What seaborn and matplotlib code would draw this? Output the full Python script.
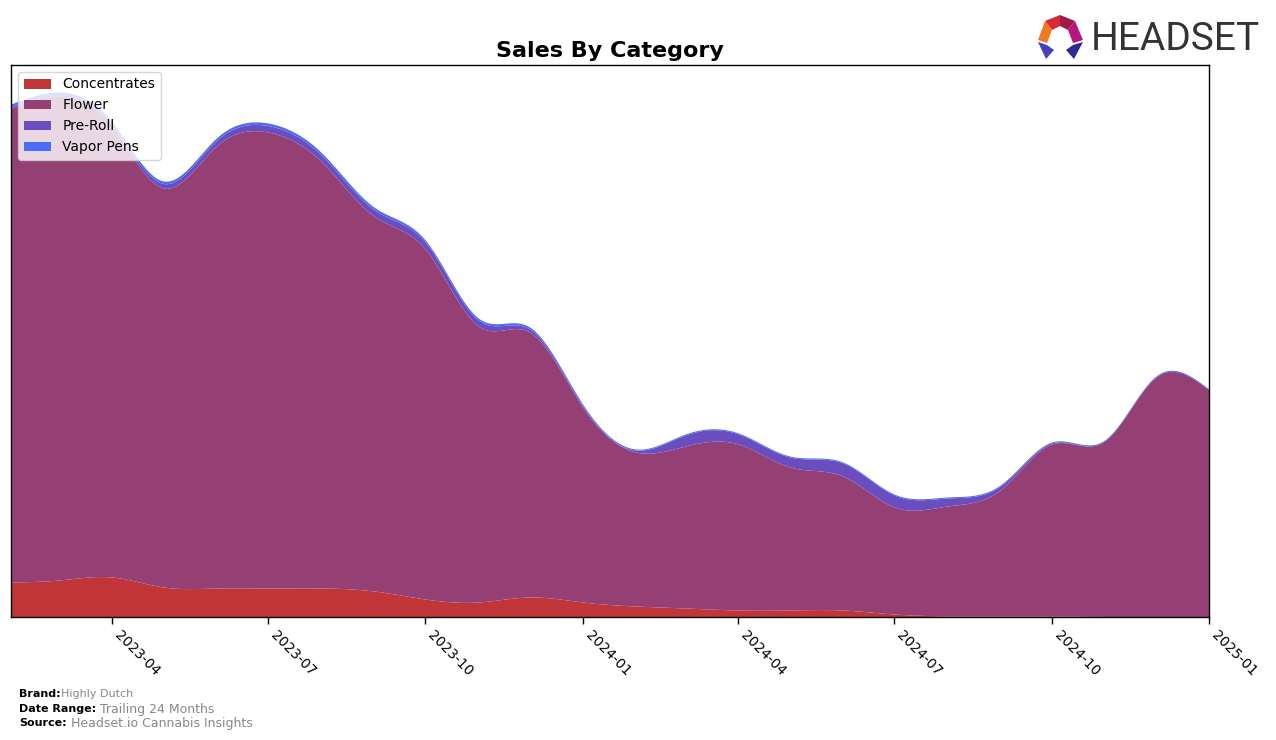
import numpy as np
import pandas as pd
import matplotlib
matplotlib.use("Agg")
import matplotlib.pyplot as plt
import matplotlib.dates as mdates
from matplotlib.patches import Polygon
import seaborn as sns

# ---------------- data ----------------
months = pd.date_range("2023-02-01", "2025-01-01", freq="MS")
categories = ["Concentrates", "Flower", "Pre-Roll", "Vapor Pens"]

concentrates = [35, 37, 40, 30, 29, 29, 29, 26, 18, 15, 20, 15,
                11, 9, 7, 7, 7, 3, 1.2, 1.2, 1.0, 0.5, 0.3, 0.2]
total_top_px = [104, 92, 122, 181, 138, 123, 152, 207, 240, 318, 327, 404,
                449, 434, 433, 456, 462, 494, 497, 485, 442, 440, 376, 389]
flower_top_px = [108, 96, 127, 188, 146, 132, 161, 216, 249, 326, 332, 407,
                 452, 446, 444, 467, 476, 507, 506, 490, 444, 441, 377, 390]
vapor_pens = [2.5, 2.5, 2.5, 2.5, 2.5, 2.5, 2.5, 2.5, 2, 2, 2, 1.5,
              1, 1, 1, 1, 1, 1, 1, 1, 1, 1, 1, 1]

BASE = 617.0
conc = np.array(concentrates, dtype=float)
flower = (BASE - np.array(flower_top_px, float)) - conc
vapor = np.array(vapor_pens, float)
preroll = (np.array(flower_top_px, float) - np.array(total_top_px, float)) - vapor
preroll = np.clip(preroll, 0, None)

series = {"Concentrates": conc, "Flower": flower, "Pre-Roll": preroll, "Vapor Pens": vapor}
colors = {"Concentrates": "#C13438", "Flower": "#944075",
          "Pre-Roll": "#6A4DBE", "Vapor Pens": "#4A6CF7"}


def natural_spline(x, y, xs):
    n = len(x)
    h = np.diff(x)
    A = np.zeros((n, n))
    r = np.zeros(n)
    A[0, 0] = 1
    A[-1, -1] = 1
    for i in range(1, n - 1):
        A[i, i - 1] = h[i - 1]
        A[i, i] = 2 * (h[i - 1] + h[i])
        A[i, i + 1] = h[i]
        r[i] = 3 * ((y[i + 1] - y[i]) / h[i] - (y[i] - y[i - 1]) / h[i - 1])
    c = np.linalg.solve(A, r)
    b = (y[1:] - y[:-1]) / h - h * (2 * c[:-1] + c[1:]) / 3
    d = (c[1:] - c[:-1]) / (3 * h)
    idx = np.clip(np.searchsorted(x, xs, side="right") - 1, 0, n - 2)
    dx = xs - x[idx]
    return y[idx] + b[idx] * dx + c[idx] * dx ** 2 + d[idx] * dx ** 3


xnum = mdates.date2num(months.to_pydatetime())
xs = np.linspace(xnum[0], xnum[-1], 600)
smooth = [np.clip(natural_spline(xnum, series[c], xs), 0, None) for c in categories]

# ---------------- figure ----------------
sns.set_theme(style="white")
plt.rcParams["font.family"] = ["DejaVu Sans"]
plt.rcParams["text.color"] = "black"
plt.rcParams["xtick.color"] = "black"
plt.rcParams["axes.labelcolor"] = "black"

fig = plt.figure(figsize=(12.76, 7.40), dpi=100)
ax = fig.add_axes([11 / 1276, 1 - 617 / 740, (1209 - 11) / 1276, (617 - 65) / 740])

ax.stackplot(mdates.num2date(xs), *smooth, labels=categories,
             colors=[colors[c] for c in categories], alpha=1.0, linewidth=0)

ax.set_xlim(mdates.num2date(xnum[0]), mdates.num2date(xnum[-1]))
ax.set_ylim(0, BASE - 65)
ax.set_yticks([])
ax.xaxis.set_major_locator(mdates.MonthLocator(bymonth=[1, 4, 7, 10]))
ax.xaxis.set_major_formatter(mdates.DateFormatter("%Y-%m"))
ax.tick_params(axis="x", which="major", bottom=True, length=5, width=1,
               color="black", labelcolor="black", labelsize=10, pad=3)
for lbl in ax.get_xticklabels():
    lbl.set_rotation(-45)
    lbl.set_ha("left")
for sp in ax.spines.values():
    sp.set_color("black")
    sp.set_linewidth(1)

ax.set_title("Sales By Category", fontsize=16, fontweight="bold", pad=6,
             color="black")
leg = ax.legend(loc="upper left", fontsize=10, frameon=True, borderaxespad=0.5,
                handlelength=2.0, handleheight=0.7)
leg.get_frame().set_edgecolor("#cccccc")
for t in leg.get_texts():
    t.set_color("black")

# ---------------- footer ----------------
fig.canvas.draw()
renderer = fig.canvas.get_renderer()
footer = [("Brand:", "Highly Dutch", 694, 8),
          ("Date Range:", " Trailing 24 Months", 709, 9),
          ("Source:", " Headset.io Cannabis Insights", 723, 9)]
for lab, val, ypx, vs in footer:
    t = fig.text(19 / 1276, 1 - ypx / 740, lab, fontsize=8, fontweight="bold",
                 color="black", va="center", ha="left")
    bb = t.get_window_extent(renderer)
    fig.text(bb.x1 / 1276, 1 - ypx / 740, val, fontsize=vs, color="#888888",
             va="center", ha="left")

# ---------------- logo ----------------
fig.text(1091 / 1276, 1 - 39 / 740, "HEADSET", fontsize=28, color="#333333",
         family=["Roboto", "DejaVu Sans"], va="center", ha="left")


def P(pts, col):
    fig.patches.append(Polygon([(x / 1276, 1 - y / 740) for x, y in pts],
                               closed=True, transform=fig.transFigure,
                               facecolor=col, edgecolor="none"))


P([(1060, 15), (1045, 21), (1052, 30), (1060, 26)], "#D8283A")
P([(1060, 15), (1075, 21), (1068, 30), (1060, 26)], "#A3184A")
P([(1045, 21), (1038, 40), (1047, 43), (1052, 30)], "#F07A22")
P([(1075, 21), (1083, 40), (1073, 43), (1068, 30)], "#B5177F")
P([(1038, 42), (1047, 45), (1054, 50), (1046, 59)], "#4A3FC0")
P([(1083, 42), (1073, 45), (1066, 50), (1074, 59)], "#2E2B91")

fig.savefig("out.png", dpi=100)
